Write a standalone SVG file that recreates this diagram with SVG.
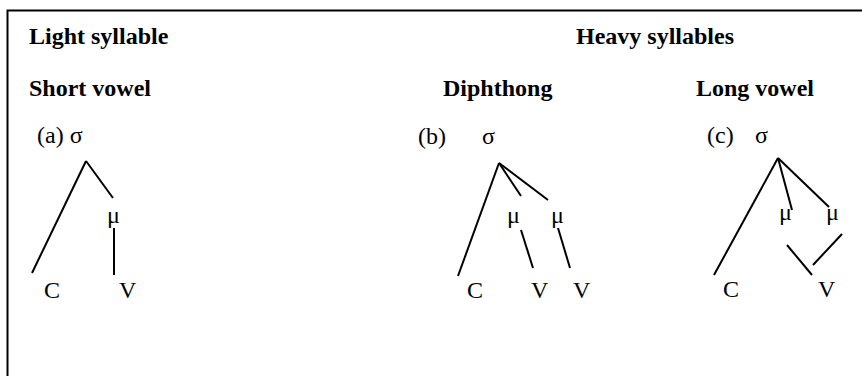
<svg xmlns="http://www.w3.org/2000/svg" width="862" height="376" viewBox="0 0 862 376">
<style>
text{font-family:"Liberation Serif","Times New Roman",serif;font-size:24px;fill:#000}
.h{font-weight:bold}
.e{stroke:#000;stroke-width:2;fill:none;stroke-linecap:butt}
</style>
<rect width="862" height="376" fill="#fff"/>
<path d="M7.5,376 V10.5 H862" fill="none" stroke="#000" stroke-width="2"/>
<g id="headings">
<text class="h" x="29" y="44">Light syllable</text>
<text class="h" x="576" y="44">Heavy syllables</text>
<text class="h" x="29" y="96">Short vowel</text>
<text class="h" x="443" y="96">Diphthong</text>
<text class="h" x="696" y="96">Long vowel</text>
</g>
<g id="tree-a">
<g id="a-sigma"><text x="37" y="143">(a) σ</text></g>
<g id="a-mu"><text x="107" y="223">μ</text></g>
<g id="a-C"><text x="44" y="298">C</text></g>
<g id="a-V"><text x="119" y="298">V</text></g>
</g>
<g id="tree-b">
<g id="b-label"><text x="418" y="144">(b)</text></g>
<g id="b-sigma"><text x="482" y="144">σ</text></g>
<g id="b-mu1"><text x="507" y="223">μ</text></g>
<g id="b-mu2"><text x="551" y="223">μ</text></g>
<g id="b-C"><text x="467" y="298">C</text></g>
<g id="b-V1"><text x="531" y="298">V</text></g>
<g id="b-V2"><text x="573" y="298">V</text></g>
</g>
<g id="tree-c">
<g id="c-label"><text x="707" y="143">(c)</text></g>
<g id="c-sigma"><text x="755" y="143">σ</text></g>
<g id="c-mu1"><text x="779" y="220">μ</text></g>
<g id="c-mu2"><text x="826" y="220">μ</text></g>
<g id="c-C"><text x="723" y="297">C</text></g>
<g id="c-V"><text x="818" y="297">V</text></g>
</g>
<g id="connectors" class="e">
<line class="e" x1="86" y1="161" x2="32" y2="273"/>
<line class="e" x1="86" y1="161" x2="113" y2="198"/>
<line class="e" x1="114" y1="228" x2="114" y2="275"/>
<line class="e" x1="499" y1="163" x2="458" y2="276"/>
<line class="e" x1="499" y1="163" x2="521" y2="196"/>
<line class="e" x1="499" y1="163" x2="548" y2="200"/>
<line class="e" x1="521" y1="230" x2="533" y2="268"/>
<line class="e" x1="558" y1="228" x2="570" y2="268"/>
<line class="e" x1="778" y1="158" x2="714" y2="275"/>
<line class="e" x1="778" y1="158" x2="792" y2="210"/>
<line class="e" x1="778" y1="158" x2="829" y2="207"/>
<line class="e" x1="787" y1="245" x2="812" y2="275"/>
<line class="e" x1="842" y1="234" x2="813" y2="265"/>
</g>
</svg>
